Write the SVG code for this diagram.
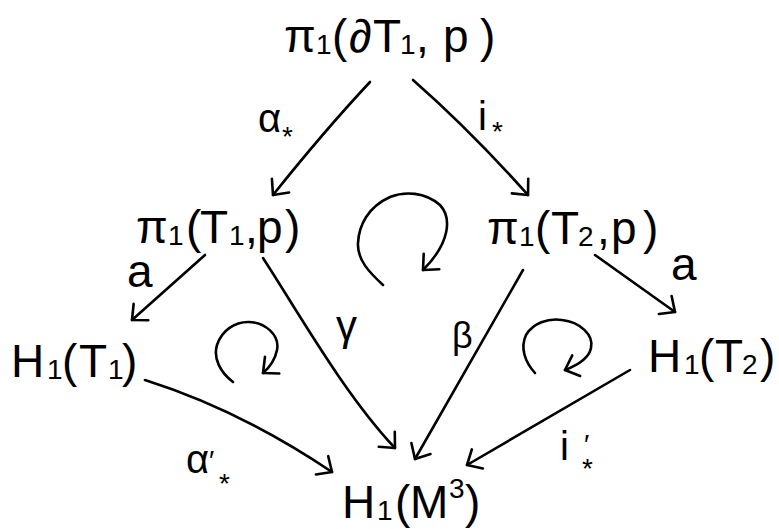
<svg xmlns="http://www.w3.org/2000/svg" width="779" height="529" viewBox="0 0 779 529">
<style>
text{font-family:"Liberation Sans","DejaVu Sans",sans-serif;fill:#000}
.n{font-size:46px}
.s{font-size:28px}
.lb{font-size:40px}
.e{fill:none;stroke:#000;stroke-width:2.6;stroke-linecap:round;stroke-linejoin:round;marker-end:url(#ah)}
</style>
<defs>
<marker id="ah" viewBox="-16 -14 20 28" refX="0" refY="0" markerWidth="20" markerHeight="28" markerUnits="userSpaceOnUse" orient="auto" overflow="visible">
<path d="M-12,-11 L0,0 L-12,11" fill="none" stroke="#000" stroke-width="2.6" stroke-linecap="round" stroke-linejoin="round"/>
</marker>
</defs>
<rect width="779" height="529" fill="#fff"/>

<g id="node-top">
<text class="n" y="52"><tspan x="284">π</tspan><tspan class="s" x="316" y="54">1</tspan><tspan x="332" y="52">(</tspan><tspan x="349">∂</tspan><tspan x="373">T</tspan><tspan class="s" x="400" y="54">1</tspan><tspan x="416" y="52">,</tspan><tspan x="443">p</tspan><tspan x="480">)</tspan></text>
</g>
<g id="node-pi1-T1">
<text class="n" y="243"><tspan x="136">π</tspan><tspan class="s" x="168" y="245">1</tspan><tspan x="186" y="243">(</tspan><tspan x="200">T</tspan><tspan class="s" x="229" y="245">1</tspan><tspan x="245" y="243">,</tspan><tspan x="257">p</tspan><tspan x="285">)</tspan></text>
</g>
<g id="node-pi1-T2">
<text class="n" y="244"><tspan x="487">π</tspan><tspan class="s" x="519" y="246">1</tspan><tspan x="535" y="244">(</tspan><tspan x="551">T</tspan><tspan class="s" x="578" y="246">2</tspan><tspan x="597" y="244">,</tspan><tspan x="611">p</tspan><tspan x="643">)</tspan></text>
</g>
<g id="node-H1-T1">
<text class="n" y="377"><tspan x="11">H</tspan><tspan class="s" x="47" y="379">1</tspan><tspan x="62" y="377">(</tspan><tspan x="79">T</tspan><tspan class="s" x="108" y="379">1</tspan><tspan x="122" y="377">)</tspan></text>
</g>
<g id="node-H1-T2">
<text class="n" y="372"><tspan x="648">H</tspan><tspan class="s" x="684" y="374">1</tspan><tspan x="699" y="372">(</tspan><tspan x="715">T</tspan><tspan class="s" x="742" y="374">2</tspan><tspan x="760" y="372">)</tspan></text>
</g>
<g id="node-H1-M3">
<text class="n" y="518"><tspan x="342">H</tspan><tspan class="s" x="377" y="520">1</tspan><tspan x="395" y="518">(</tspan><tspan x="410">M</tspan><tspan class="s" x="449" y="498">3</tspan><tspan x="465" y="518">)</tspan></text>
</g>

<g id="connectors">
<path class="e" d="M370,82 Q325,130 273,195"/>
<path class="e" d="M413,80 Q470,130 528,195"/>
<path class="e" d="M205,255 L132,320"/>
<path class="e" d="M595,255 L675,312"/>
<path class="e" d="M263,258 C300,315 345,395 395,448"/>
<path class="e" d="M523,270 L415,459"/>
<path class="e" d="M145,380 Q240,410 332,472"/>
<path class="e" d="M630,370 L467,465"/>
</g>

<g id="labels">
<text class="lb" y="132"><tspan x="258">α</tspan><tspan class="s" x="282" y="146">*</tspan></text>
<text class="lb" y="130"><tspan x="478">i</tspan><tspan class="s" x="492" y="141">*</tspan></text>
<text font-size="46" x="127" y="287">a</text>
<text font-size="46" x="671" y="280">a</text>
<text font-size="42" x="336" y="340">γ</text>
<text font-size="36" x="452" y="348">β</text>
<text class="lb" y="473"><tspan x="186">α</tspan><tspan class="s" x="209" y="470">′</tspan><tspan class="s" x="219" y="493">*</tspan></text>
<text class="lb" y="460"><tspan x="560">i</tspan><tspan class="s" x="584" y="454">′</tspan><tspan class="s" x="582" y="478">*</tspan></text>
</g>

<g id="commute-marks">
<path class="e" d="M383,285 C370,273 357,260 358,243 C359,225 368,207 390,197 C405,191 425,192 440,205 C452,218 450,243 423,270"/>
<path class="e" d="M233,382 C220,372 213,358 217,345 C222,330 235,322 248,322 C265,322 280,335 277,350 C275,360 270,367 263,373"/>
<path class="e" d="M535,373 C525,362 520,348 526,335 C533,323 548,318 562,320 C580,322 594,335 591,348 C589,358 578,365 565,370"/>
</g>
</svg>
